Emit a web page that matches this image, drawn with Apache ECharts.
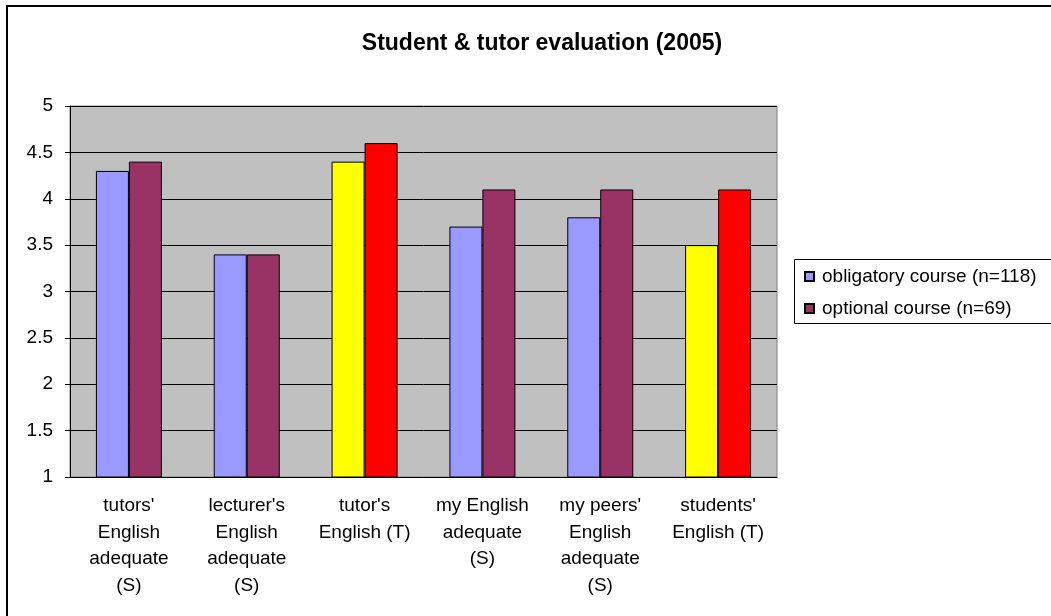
<!DOCTYPE html>
<html>
<head>
<meta charset="utf-8">
<script src="https://cdn.jsdelivr.net/npm/echarts@6/dist/echarts.min.js"></script>
<style>
  html, body { margin: 0; padding: 0; background: #fff; }
  #chart { width: 1051px; height: 616px; }
</style>
</head>
<body>
<div id="chart"></div>
<script>
// categories on the x axis
const categories = [
  "tutors'\nEnglish\nadequate\n(S)",
  "lecturer's\nEnglish\nadequate\n(S)",
  "tutor's\nEnglish (T)",
  "my English\nadequate\n(S)",
  "my peers'\nEnglish\nadequate\n(S)",
  "students'\nEnglish (T)"
]
// mean scores
const obligatory = [4.3, 3.4, 4.4, 3.7, 3.8, 3.5]
const optional = [4.4, 3.4, 4.6, 4.1, 4.1, 4.1]
// the tutor (T) questions are drawn in yellow / red
const tutorCats = [2, 5]

const font = '"Liberation Sans", Arial, sans-serif'

const chart = echarts.init(document.getElementById('chart'))

function toItems(values, base, alt) {
  return values.map((v, i) => ({
    value: v,
    itemStyle: { color: tutorCats.includes(i) ? alt : base }
  }))
}

chart.setOption({
  backgroundColor: '#fff',
  animation: false,
  // outer frame of the chart + legend box (runs off the right edge)
  graphic: [
    {
      type: 'rect',
      shape: { x: 7, y: 6, width: 1100, height: 700 },
      style: { fill: 'none', stroke: '#000', lineWidth: 2 }
    },
    {
      type: 'rect',
      shape: { x: 794.5, y: 259.5, width: 400, height: 64 },
      style: { fill: '#fff', stroke: '#000', lineWidth: 1 },
      z: -1
    }
  ],
  title: {
    text: 'Student & tutor evaluation (2005)',
    left: 537,
    textAlign: 'center',
    top: 27,
    textStyle: { fontFamily: font, fontWeight: 'bold', fontSize: 23, color: '#000' }
  },
  legend: {
    orient: 'vertical',
    left: 799,
    top: 262,
    icon: 'rect',
    itemWidth: 9,
    itemHeight: 9,
    itemGap: 13,
    textStyle: { fontFamily: font, fontSize: 19, color: '#000', padding: [0, 0, 0, 3] },
    data: ['obligatory course (n=118)', 'optional course (n=69)']
  },
  grid: {
    left: 70,
    right: 274,
    top: 106,
    bottom: 139,
    show: true,
    backgroundColor: '#c0c0c0',
    borderColor: '#808080',
    borderWidth: 1
  },
  xAxis: {
    type: 'category',
    data: categories,
    axisLine: { lineStyle: { color: '#000', width: 1 } },
    axisTick: { length: 6, lineStyle: { color: '#000' } },
    axisLabel: {
      interval: 0,
      margin: 16,
      fontFamily: font,
      fontSize: 19,
      lineHeight: 26.5,
      color: '#000'
    }
  },
  yAxis: {
    type: 'value',
    min: 1,
    max: 5,
    interval: 0.5,
    axisLine: { show: true, lineStyle: { color: '#000', width: 1 } },
    axisTick: { show: true, length: 5, lineStyle: { color: '#000' } },
    axisLabel: { margin: 17, fontFamily: font, fontSize: 19, color: '#000' },
    splitLine: { lineStyle: { color: '#000', width: 1 } }
  },
  series: [
    {
      name: 'obligatory course (n=118)',
      type: 'bar',
      barWidth: 33,
      barGap: 0,
      itemStyle: { color: '#9999ff', borderColor: '#000', borderWidth: 1 },
      data: toItems(obligatory, '#9999ff', '#ffff00')
    },
    {
      name: 'optional course (n=69)',
      type: 'bar',
      barWidth: 33,
      barGap: 0,
      itemStyle: { color: '#993366', borderColor: '#000', borderWidth: 1 },
      data: toItems(optional, '#993366', '#ff0000')
    }
  ]
})
</script>
</body>
</html>
